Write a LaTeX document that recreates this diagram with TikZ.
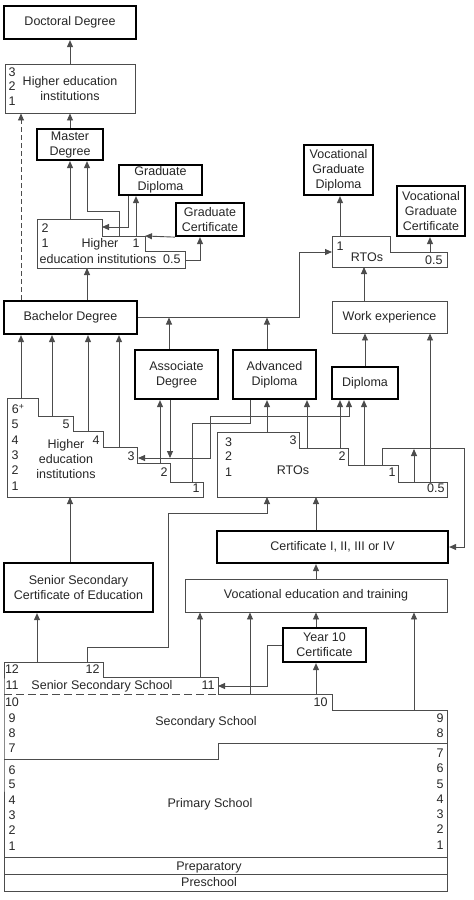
\documentclass[tikz,border=0pt]{standalone}
\usepackage{fontspec}
\setmainfont{Liberation Sans}
\usetikzlibrary{arrows.meta}

\begin{document}
\begin{tikzpicture}[x=1pt,y=-1pt,font=\fontsize{12.5}{15}\selectfont,
    line width=0.9pt,color=black!70,
    every node/.style={text=black!85},
    arr/.style={-{Triangle[length=7pt,width=6pt]}},
    arrs/.style={{Triangle[length=7pt,width=6pt]}-{Triangle[length=7pt,width=6pt]}},
    qual/.style={draw=black,line width=2.2pt,fill=white,align=center,inner sep=0pt},
    inst/.style={draw,fill=white,align=center,inner sep=0pt},
    num/.style={inner sep=0pt,text height=9pt,text depth=0pt},
    txt/.style={inner sep=0pt,align=center}]
    \useasboundingbox (0,0) rectangle (474,900);

    % providers
    \draw (37,219) -| (102,236) -| (145,251) -| (185,268) -- (37,268) -- cycle;
    \draw (7,398) -| (38,416) -| (73,431) -| (103,447) -| (137,463) -| (170,482) -| (203,497) -- (7,497) -- cycle;
    \draw (332,236) -| (390,252) -| (447,267) -- (332,267) -- cycle;
    \draw (217,432) -| (299,448) -| (348,465) -| (398,482) -| (447,497) -- (217,497) -- cycle;
    \draw (4,694) -- (4,662) -| (103,677) -| (218,694) -| (332,710) -| (447,891) -- (4,891) -- cycle;
    \draw[dash pattern=on 8pt off 4pt] (4,694) -- (218,694);
    \draw (4,759) -| (218,743) -- (447,743);
    \draw (4,857) -- (447,857) (4,874) -- (447,874);

    % qualifications
    \node[qual,minimum width=132pt,minimum height=33pt] (doct) at (70,22.5) {Doctoral Degree};
    \node[qual,minimum width=66pt,minimum height=31pt] (mast) at (70,144.5) {Master\\Degree};
    \node[qual,minimum width=83pt,minimum height=30pt] (gdip) at (160.5,180) {Graduate\\Diploma};
    \node[qual,minimum width=68pt,minimum height=33pt] (gcert) at (210,219.5) {Graduate\\Certificate};
    \node[qual,minimum width=69pt,minimum height=50pt] (vgdip) at (338.5,170) {Vocational\\Graduate\\Diploma};
    \node[qual,minimum width=68pt,minimum height=50pt] (vgcert) at (431,211) {Vocational\\Graduate\\Certificate};
    \node[qual,minimum width=133pt,minimum height=33pt] (bach) at (70.5,317.5) {Bachelor Degree};
    \node[qual,minimum width=83pt,minimum height=49pt] (assoc) at (176.5,374.5) {Associate\\Degree};
    \node[qual,minimum width=83pt,minimum height=49pt] (adip) at (274.5,374.5) {Advanced\\Diploma};
    \node[qual,minimum width=66pt,minimum height=32pt] (dip) at (365,383) {Diploma};
    \node[qual,minimum width=231pt,minimum height=32pt] (cert) at (332.5,547) {Certificate I, II, III or IV};
    \node[qual,minimum width=149pt,minimum height=49pt] (ssce) at (78.5,587.5) {Senior Secondary\\Certificate of Education};
    \node[qual,minimum width=83pt,minimum height=34pt] (yten) at (324.5,645) {Year 10\\Certificate};
    \node[inst,minimum width=130pt,minimum height=49pt] (heid) at (70,88.5) {Higher education\\institutions};
    \node[inst,minimum width=115pt,minimum height=32pt] (work) at (389.5,317) {Work experience};
    \node[inst,minimum width=262pt,minimum height=33pt] (vet) at (316,595.5) {Vocational education and training};

    % year levels
    \foreach \n/\y in {3/72,2/86,1/101} \node[num] (hd\n) at (12,\y) {\n};
    \node[num] (hm2) at (45,228) {2};
    \node[num] (hm1) at (45,243) {1};
    \node[num] (hmt) at (100,243) {Higher};
    \node[num] (hmu) at (98,259) {education institutions};
    \node[num,anchor=east] (hms) at (140,243) {1};
    \node[num,anchor=east] (hmh) at (181,259) {0.5};

    \node[inner sep=0pt,anchor=base west] (hb6) at (11.5,413.5) {6\textsuperscript{+}};
    \foreach \n/\y in {5/424,4/440,3/455,2/470,1/486} \node[num] (hb\n) at (15,\y) {\n};
    \foreach \n/\x/\y in {5/70/424,4/100/440,3/135/456,2/168/472,1/200/488}
        \node[num,anchor=east] (hs\n) at (\x,\y) {\n};
    \node[txt] (hbt) at (66,459) {Higher\\education\\institutions};

    \node[num] (tr1) at (340,246) {1};
    \node[num] (trt) at (367,257) {RTOs};
    \node[num,anchor=east] (trh) at (443,260) {0.5};

    \foreach \n/\y in {3/442,2/456,1/472} \node[num] (rl\n) at (228.5,\y) {\n};
    \foreach \n/\x/\y in {3/297/440,2/346/456,1/396/472}
        \node[num,anchor=east] (rs\n) at (\x,\y) {\n};
    \node[num,anchor=east] (rsh) at (445,488) {0.5};
    \node[num] (rlt) at (293,470) {RTOs};

    \foreach \n/\y in {12/669,11/685,10/702,9/718,8/733,7/748,6/770,5/784,4/800,3/815,2/830,1/846}
        \node[num] (sl\n) at (12,\y) {\n};
    \foreach \n/\y in {9/718,8/733,7/753,6/768,5/784,4/799,3/814,2/829,1/845}
        \node[num] (sr\n) at (440,\y) {\n};
    \node[num,anchor=east] (ss12) at (100,669) {12};
    \node[num,anchor=east] (ss11) at (215,685) {11};
    \node[num,anchor=east] (ss10) at (328,702) {10};
    \node[num] (sst) at (102,685) {Senior Secondary School};
    \node[num] (sct) at (206,721) {Secondary School};
    \node[num] (spt) at (210,803) {Primary School};
    \node[num] (prep) at (209,866) {Preparatory};
    \node[num] (pres) at (209,882) {Preschool};

    % pathways
    \coordinate (m1) at (70,219);
    \coordinate (m2) at (119,236);
    \coordinate (m3) at (136,236);
    \coordinate (m4) at (102,227);
    \coordinate (m5) at (145,236);
    \coordinate (m6) at (185,260);
    \coordinate (m7) at (87,268);
    \draw[arr] (heid) -- (doct);
    \draw[arr] (mast) -- (heid);
    \draw[arr,dash pattern=on 5pt off 3pt] ([xshift=-49.5pt]bach.north) -- ([xshift=-49pt]heid.south);
    \draw[arr] (m1) -- (mast);
    \draw[arr] (m2) -- ++(0,-25) -| ([xshift=17pt]mast.south);
    \draw[arr] (m3) -- (gdip.south -| m3);
    \draw[arr] ([xshift=-32.5pt]gdip.south) |- (m4);
    \draw[arr] (gcert.south west) -- (m5);
    \draw[arr] (m6) -| ([xshift=-10pt]gcert.south);
    \draw[arr] ([xshift=16.5pt]bach.north) -- (m7);

    \coordinate (t1) at (332,252);
    \coordinate (t2) at (340,236);
    \coordinate (t3) at (430,252);
    \coordinate (t4) at (364,267);
    \draw[arr] (bach.east) -| ([xshift=-33pt]t1) -- (t1);
    \draw[arr] ([xshift=-7.5pt]assoc.north) -- ([xshift=-7.5pt]assoc.north |- bach.east);
    \draw[arr] ([xshift=-7.5pt]adip.north) -- ([xshift=-7.5pt]adip.north |- bach.east);
    \draw[arr] (t2) -- (vgdip.south -| t2);
    \draw[arr] (t3) -- (vgcert.south -| t3);
    \draw[arr] (work.north -| t4) -- (t4);
    \draw[arr] (dip.north) -- (dip.north |- work.south);

    \coordinate (b1) at (21,398);
    \coordinate (b2) at (52,416);
    \coordinate (b3) at (88,431);
    \coordinate (b4) at (119,447);
    \coordinate (b5) at (160,463);
    \coordinate (b6) at (138,458);
    \coordinate (b7) at (192,482);
    \coordinate (b8) at (70,497);
    \foreach \c in {b1,b2,b3,b4} \draw[arr] (\c) -- (bach.south -| \c);
    \draw[arr] (b5) -- (assoc.south -| b5);
    \draw[arr] ([xshift=-6.5pt]assoc.south) -- ([xshift=-6.5pt]assoc.south |- b6);
    \draw[arrs] ([xshift=-16pt]dip.south) |- (210,416) |- (b6);
    \draw ([xshift=-24.5pt]adip.south) |- (192,423) -- (b7);

    \coordinate (r1) at (267,432);
    \coordinate (r2) at (307,448);
    \coordinate (r3) at (340,448);
    \coordinate (r4) at (364,465);
    \coordinate (r5) at (382,465);
    \coordinate (r6) at (414,482);
    \coordinate (r7) at (430,482);
    \coordinate (r8) at (316,497);
    \coordinate (r9) at (267,497);
    \draw[arr] (r1) -- (adip.south -| r1);
    \draw[arr] (r2) -- (adip.south -| r2);
    \draw[arr] (r3) -- (dip.south -| r3);
    \draw[arr] (r4) -- (dip.south -| r4);
    \draw[arr] (r5) -- ++(0,-17) -| ([xshift=15pt]cert.east) -- (cert.east);
    \draw[arr] (r6) -- ++(0,-33);
    \draw[arr] (r7) -- (work.south -| r7);
    \draw[arr] ([xshift=-16.5pt]cert.north) -- (r8);

    \coordinate (s1) at (37,662);
    \coordinate (s2) at (87,662);
    \coordinate (s3) at (200,677);
    \coordinate (s4) at (250,694);
    \coordinate (s5) at (316,694);
    \coordinate (s6) at (414,710);
    \coordinate (s7) at (218,686);
    \draw[arr] (s1) -- (ssce.south -| s1);
    \draw[arr] ([xshift=-8.5pt]ssce.north) -- (b8);
    \draw[arr] (s2) -- ++(0,-15) -| (168,513) -| (r9);
    \draw[arr] (vet.north) -- (vet.north |- cert.south);
    \foreach \c in {s3,s4,s6} \draw[arr] (\c) -- (vet.south -| \c);
    \draw[arr] (yten.north -| s5) -- (vet.south -| s5);
    \draw[arr] (s5) -- (yten.south -| s5);
    \draw[arr] (yten.west) -| (267,686) -- (s7);
\end{tikzpicture}
\end{document}
